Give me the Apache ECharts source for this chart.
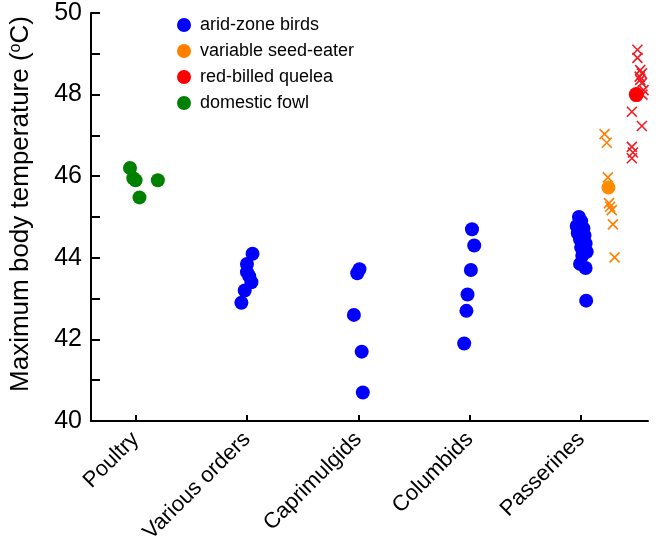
<!DOCTYPE html>
<html>
<head>
<meta charset="utf-8">
<script src="https://cdn.jsdelivr.net/npm/echarts@6/dist/echarts.min.js"></script>
<style>
html,body{margin:0;padding:0;background:#fff;}
#chart{width:668px;height:559px;}
</style>
</head>
<body>
<div id="chart"></div>
<script>
// ---- data ----
const categories = ['Poultry', 'Various orders', 'Caprimulgids', 'Columbids', 'Passerines'];
const categoryPositions = [1, 2, 3, 4, 5];
const yMajorTicks = [40, 42, 44, 46, 48, 50];

// arid-zone birds [x position, Tb max]
const aridZone = [
  [2.05, 44.1], [2.0, 43.85], [2.0, 43.65], [2.02, 43.55], [2.04, 43.4], [1.98, 43.2], [1.95, 42.9],
  [3.01, 43.72], [2.99, 43.62], [2.96, 42.6], [3.03, 41.7], [3.04, 40.7],
  [4.02, 44.7], [4.04, 44.3], [4.01, 43.7], [3.98, 43.1], [3.97, 42.7], [3.95, 41.9],
  [4.98, 45.0], [5.0, 44.9], [4.96, 44.78], [5.02, 44.72], [4.97, 44.6], [5.03, 44.55], [4.99, 44.45],
  [5.04, 44.35], [5.0, 44.25], [5.05, 44.15], [5.01, 44.05], [4.99, 43.85], [5.04, 43.75], [5.045, 42.95]
];
const seedEaterMean = [[5.245, 45.72]];
const seedEaterIndiv = [
  [5.21, 47.03], [5.23, 46.82], [5.24, 45.97], [5.25, 45.34], [5.26, 45.25], [5.275, 45.17], [5.285, 44.82], [5.30, 44.01]
];
const queleaMean = [[5.495, 48.0]];
const queleaIndiv = [
  [5.505, 49.1], [5.505, 48.9], [5.53, 48.6], [5.545, 48.52], [5.525, 48.44], [5.53, 48.36], [5.545, 48.28],
  [5.56, 48.11], [5.55, 48.0], [5.455, 47.58], [5.545, 47.23], [5.455, 46.72], [5.465, 46.58], [5.455, 46.44]
];
const domesticFowl = [[0.95, 46.2], [0.98, 45.95], [1.0, 45.9], [1.2, 45.9], [1.035, 45.48]];

// ---- chart ----
const FONT = 'Arial, "Liberation Sans", sans-serif';
const cross = 'path://M0,0L10,10M10,0L0,10';
const chart = echarts.init(document.getElementById('chart'), null, {renderer: 'canvas'});
chart.setOption({
  animation: false,
  backgroundColor: '#fff',
  grid: {left: 91, right: 20, top: 13, bottom: 138, containLabel: false},
  legend: {
    orient: 'vertical', left: 172, top: 11, itemWidth: 14, itemHeight: 14, itemGap: 8,
    textStyle: {fontSize: 18, color: '#000', fontFamily: FONT, padding: [0, 0, 0, 4]},
    data: [
      {name: 'arid-zone birds', icon: 'circle', itemStyle: {color: '#0000ff', borderWidth: 0, opacity: 1}},
      {name: 'variable seed-eater', icon: 'circle', itemStyle: {color: '#ff8000', borderWidth: 0, opacity: 1}},
      {name: 'red-billed quelea', icon: 'circle', itemStyle: {color: '#ff0000', borderWidth: 0, opacity: 1}},
      {name: 'domestic fowl', icon: 'circle', itemStyle: {color: '#008000', borderWidth: 0, opacity: 1}}
    ]
  },
  xAxis: {
    type: 'value', min: 0.6, max: 5.6,
    splitLine: {show: false},
    axisLine: {show: true, lineStyle: {color: '#000', width: 2}},
    axisTick: {show: true, inside: true, length: 6, lineStyle: {color: '#000', width: 2}, customValues: categoryPositions},
    axisLabel: {
      customValues: categoryPositions, rotate: 45, fontSize: 22, color: '#000', fontFamily: FONT, margin: 15,
      formatter: v => categories[Math.round(v) - 1] || ''
    }
  },
  yAxis: {
    type: 'value', min: 40, max: 50, interval: 1,
    name: '{a|Maximum body temperature (}{s|o}{a|C)}',
    nameLocation: 'middle', nameGap: 57,
    nameTextStyle: {
      rich: {
        a: {fontSize: 26, color: '#000', fontFamily: FONT},
        s: {fontSize: 16, color: '#000', fontFamily: FONT, padding: [0, 0, 10, 0]}
      },
      padding: [0, 0, 0, 26]
    },
    splitLine: {show: false},
    axisLine: {show: true, lineStyle: {color: '#000', width: 2}},
    axisTick: {show: true, inside: true, length: 9, lineStyle: {color: '#000', width: 2}},
    axisLabel: {
      fontSize: 25, color: '#000', fontFamily: FONT, margin: 9,
      formatter: v => (yMajorTicks.indexOf(v) >= 0 ? String(v) : '')
    }
  },
  series: [
    {name: 'arid-zone birds', type: 'scatter', data: aridZone, symbol: 'circle', symbolSize: 14,
     itemStyle: {color: '#0000ff', opacity: 1}},
    {name: 'variable seed-eater', type: 'scatter', data: seedEaterIndiv, symbol: cross, symbolSize: 10,
     itemStyle: {color: 'transparent', borderColor: '#ff8000', borderWidth: 1.6, opacity: 1}},
    {name: 'variable seed-eater', type: 'scatter', data: seedEaterMean, symbol: 'circle', symbolSize: 14,
     itemStyle: {color: '#ff8c00', opacity: 1}},
    {name: 'red-billed quelea', type: 'scatter', data: queleaIndiv, symbol: cross, symbolSize: 10,
     itemStyle: {color: 'transparent', borderColor: '#ee1c24', borderWidth: 1.6, opacity: 1}},
    {name: 'red-billed quelea', type: 'scatter', data: queleaMean, symbol: 'circle', symbolSize: 15,
     itemStyle: {color: '#ff0000', opacity: 1}},
    {name: 'domestic fowl', type: 'scatter', data: domesticFowl, symbol: 'circle', symbolSize: 14,
     itemStyle: {color: '#008000', opacity: 1}}
  ]
});
</script>
</body>
</html>
